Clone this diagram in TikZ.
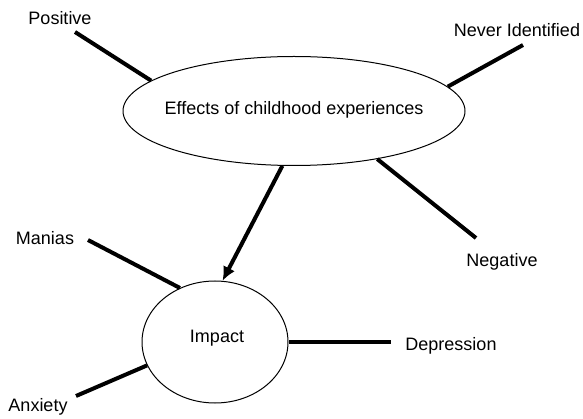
\documentclass[tikz,border=0pt]{standalone}
\usepackage{fontspec}
\setmainfont{Liberation Sans}
\usepackage{tikz}
\usetikzlibrary{arrows.meta,positioning,shapes.geometric}

\begin{document}
\begin{tikzpicture}[x=1pt,y=-1pt,>=Latex,
  lbl/.style={font=\fontsize{18}{21}\selectfont,inner sep=0pt},
  bubble/.style={draw,ellipse,line width=1pt,inner sep=0pt,font=\fontsize{18}{21}\selectfont},
  spoke/.style={line width=4pt}]
\useasboundingbox (0,0) rectangle (583,419);
\node[bubble,minimum width=342pt,minimum height=109pt] (eff) at (294,111) {};
\node[lbl] (eff_t) at (294,110) {Effects of childhood experiences};
\node[bubble,minimum width=146pt,minimum height=122pt] (imp) at (215,342) {};
\node[lbl] (imp_t) at (217,338) {Impact};
\node[lbl] (pos) at (60,18) {Positive};
\node[lbl] (nev) at (517,30) {Never Identified};
\node[lbl] (neg) at (502,262) {Negative};
\node[lbl] (man) at (45,238) {Manias};
\node[lbl] (anx) at (38,407) {Anxiety};
\node[lbl] (dep) at (451,346) {Depression};
\coordinate (pos_e) at (75,32);
\coordinate (nev_e) at (523,45);
\coordinate (neg_e) at (476,238);
\coordinate (man_e) at (88,240);
\coordinate (anx_e) at (76,396);
\coordinate (dep_e) at (391,342);
% spokes
\draw[spoke] (pos_e)--(eff.168.4);
\draw[spoke] (nev_e)--(eff.9.2);
\draw[spoke] (eff.330)--(neg_e);
\draw[spoke] (man_e)--(imp.123.9);
\draw[spoke] (anx_e)--(imp.199.7);
\draw[spoke] (imp.0)--(dep_e);
\draw[spoke,-{Latex[length=14pt,width=13pt]}] (eff.258.7)--(imp.83.4);
\end{tikzpicture}
\end{document}
